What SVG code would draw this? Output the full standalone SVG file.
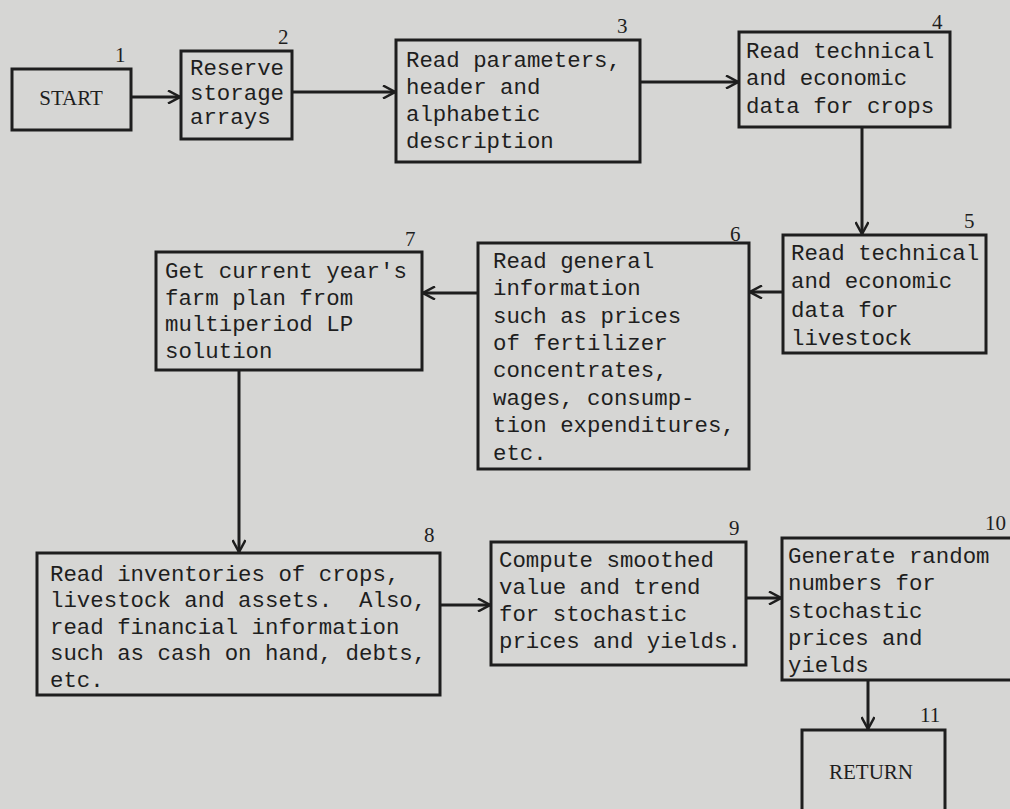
<svg xmlns="http://www.w3.org/2000/svg" width="1010" height="809" viewBox="0 0 1010 809">
<style>
.box{fill:none;stroke:#1e1e1e;stroke-width:3}
.t{font-family:"Liberation Mono",monospace;font-size:22.4px;fill:#1e1e1e;white-space:pre}
.s{font-family:"Liberation Serif",serif;font-size:21px;fill:#1e1e1e}
.n{font-family:"Liberation Serif",serif;font-size:21px;fill:#1e1e1e}
.c{fill:none;stroke:#1e1e1e;stroke-width:3}
</style>
<defs>
<marker id="a" viewBox="0 0 14 14" refX="13" refY="7" markerWidth="14" markerHeight="14" markerUnits="userSpaceOnUse" orient="auto">
<path d="M1,0.5 L13,7 L1,13.5" fill="none" stroke="#1e1e1e" stroke-width="2.5"/>
</marker>
</defs>
<rect width="1010" height="809" fill="#d6d6d4"/>
<g id="connectors">
<path class="c" d="M131,97 H180" marker-end="url(#a)"/>
<path class="c" d="M292,92 H395" marker-end="url(#a)"/>
<path class="c" d="M640,82 H738" marker-end="url(#a)"/>
<path class="c" d="M862,127 V234" marker-end="url(#a)"/>
<path class="c" d="M783,292 H750" marker-end="url(#a)"/>
<path class="c" d="M478,293 H423" marker-end="url(#a)"/>
<path class="c" d="M239,370 V552" marker-end="url(#a)"/>
<path class="c" d="M440,605 H490" marker-end="url(#a)"/>
<path class="c" d="M746,598 H781" marker-end="url(#a)"/>
<path class="c" d="M868,680 V729" marker-end="url(#a)"/>
</g>
<g id="n1">
<rect class="box" x="12" y="69" width="119" height="61"/>
<text class="s" x="71" y="105" text-anchor="middle">START</text>
<text class="n" x="115" y="62">1</text>
</g>
<g id="n2">
<rect class="box" x="181" y="51" width="111" height="88"/>
<text class="t" x="190" y="75">Reserve</text>
<text class="t" x="190" y="100">storage</text>
<text class="t" x="190" y="124">arrays</text>
<text class="n" x="278" y="44">2</text>
</g>
<g id="n3">
<rect class="box" x="396" y="40" width="244" height="122"/>
<text class="t" x="406" y="67">Read parameters,</text>
<text class="t" x="406" y="94">header and</text>
<text class="t" x="406" y="121">alphabetic</text>
<text class="t" x="406" y="148">description</text>
<text class="n" x="617" y="33">3</text>
</g>
<g id="n4">
<rect class="box" x="739" y="32" width="211" height="95"/>
<text class="t" x="746" y="58">Read technical</text>
<text class="t" x="746" y="85">and economic</text>
<text class="t" x="746" y="113">data for crops</text>
<text class="n" x="932" y="29">4</text>
</g>
<g id="n5">
<rect class="box" x="783" y="235" width="203" height="118"/>
<text class="t" x="791" y="260">Read technical</text>
<text class="t" x="791" y="288">and economic</text>
<text class="t" x="791" y="317">data for</text>
<text class="t" x="791" y="345">livestock</text>
<text class="n" x="964" y="228">5</text>
</g>
<g id="n6">
<rect class="box" x="478" y="243" width="271" height="226"/>
<text class="t" x="493" y="268">Read general</text>
<text class="t" x="493" y="295">information</text>
<text class="t" x="493" y="323">such as prices</text>
<text class="t" x="493" y="350">of fertilizer</text>
<text class="t" x="493" y="377">concentrates,</text>
<text class="t" x="493" y="405">wages, consump-</text>
<text class="t" x="493" y="432">tion expenditures,</text>
<text class="t" x="493" y="460">etc.</text>
<text class="n" x="730" y="241">6</text>
</g>
<g id="n7">
<rect class="box" x="156" y="252" width="266" height="118"/>
<text class="t" x="165" y="278">Get current year's</text>
<text class="t" x="165" y="305">farm plan from</text>
<text class="t" x="165" y="331">multiperiod LP</text>
<text class="t" x="165" y="358">solution</text>
<text class="n" x="405" y="246">7</text>
</g>
<g id="n8">
<rect class="box" x="37" y="553" width="403" height="142"/>
<text class="t" x="50" y="581">Read inventories of crops,</text>
<text class="t" x="50" y="607" xml:space="preserve">livestock and assets.  Also,</text>
<text class="t" x="50" y="634">read financial information</text>
<text class="t" x="50" y="660">such as cash on hand, debts,</text>
<text class="t" x="50" y="687">etc.</text>
<text class="n" x="424" y="542">8</text>
</g>
<g id="n9">
<rect class="box" x="491" y="542" width="255" height="123"/>
<text class="t" x="499" y="567">Compute smoothed</text>
<text class="t" x="499" y="594">value and trend</text>
<text class="t" x="499" y="621">for stochastic</text>
<text class="t" x="499" y="648">prices and yields.</text>
<text class="n" x="729" y="535">9</text>
</g>
<g id="n10">
<rect class="box" x="782" y="538" width="240" height="142"/>
<text class="t" x="788" y="563">Generate random</text>
<text class="t" x="788" y="590">numbers for</text>
<text class="t" x="788" y="618">stochastic</text>
<text class="t" x="788" y="645">prices and</text>
<text class="t" x="788" y="672">yields</text>
<text class="n" x="985" y="530">10</text>
</g>
<g id="n11">
<rect class="box" x="802" y="730" width="143" height="90"/>
<text class="s" x="871" y="779" text-anchor="middle">RETURN</text>
<text class="n" x="920" y="722">11</text>
</g>
</svg>
